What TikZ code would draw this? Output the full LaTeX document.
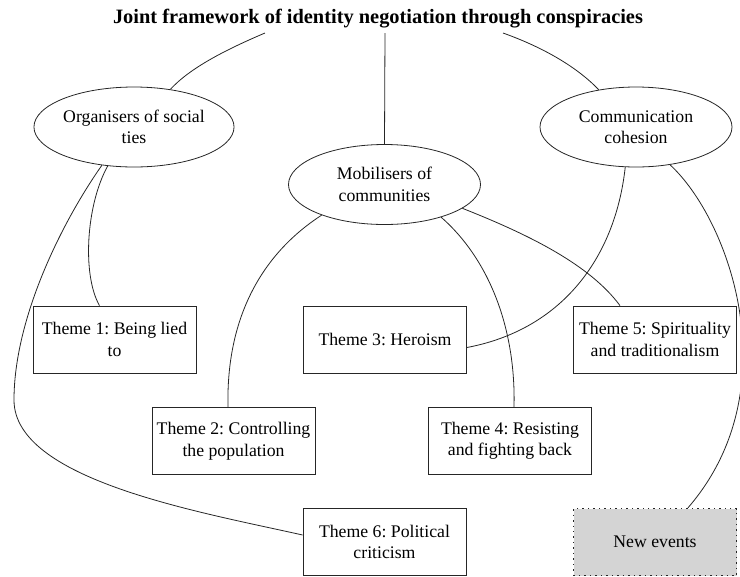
\documentclass[tikz,border=0pt]{standalone}
\usepackage{fontspec}
\setmainfont{Liberation Serif}
\usetikzlibrary{calc,shapes.geometric}
\frenchspacing
\begin{document}
\begin{tikzpicture}[x=0.75pt,y=-0.75pt,
  every node/.style={font=\fontsize{13.3}{16.1}\selectfont, align=center, inner sep=0pt},
  heading/.style={font=\fontsize{15.3}{18}\selectfont\bfseries},
  oval/.style={ellipse, draw=black!85, line width=0.6pt, minimum width=144pt, minimum height=60pt},
  themebox/.style={rectangle, draw=black!85, line width=0.6pt, minimum width=122.25pt, minimum height=50.25pt},
  eventbox/.style={rectangle, draw=black!85, fill=black!17, line width=1.1pt, dash pattern=on 1.1pt off 3pt, minimum width=122.25pt, minimum height=50.25pt},
  link/.style={draw=black!85, line width=0.6pt}]
\useasboundingbox (0,0) rectangle (740,576);
\clip (0,0) rectangle (740,576);
\node[heading] (title) at (378,19) {Joint framework of identity negotiation through conspiracies};
\coordinate (t1) at (265,33);
\coordinate (t2) at (385,33);
\coordinate (t3) at (503,33);
\node[oval] (org) at (134,127) {Organisers of social\\ties};
\node[oval] (mob) at (384.5,184.5) {Mobilisers of\\communities};
\node[oval] (comm) at (636,127) {Communication\\cohesion};
\node[themebox] (b1) at (114.5,339.5) {Theme 1: Being lied\\to};
\node[themebox] (b3) at (385,339.5) {Theme 3: Heroism};
\node[themebox] (b5) at (655,339.5) {Theme 5: Spirituality\\and traditionalism};
\node[themebox] (b2) at (233.5,441) {Theme 2: Controlling\\the population};
\node[themebox] (b4) at (510,441) {Theme 4: Resisting\\and fighting back};
\node[themebox] (b6) at (384.5,542) {Theme 6: Political\\criticism};
\node[eventbox] (ne) at (655,542) {New events};
\draw[link] (t1) .. controls (225,50) and (190,68) .. (org.46);
\draw[link] (t2) -- (mob.north);
\draw[link] (t3) .. controls (545,48) and (578,68) .. (comm.135);
\draw[link] (org.-124) .. controls (86,205) and (82,275) .. ($(b1.north)+(-15,0)$);
\draw[link] (org.-130) .. controls (60,225) and (14,320) .. (14,400) .. controls (14,480) and (200,512) .. ($(b6.west)+(0,-7)$);
\draw[link] (mob.-154) .. controls (260,255) and (226,320) .. ($(b2.north)+(-5.5,0)$);
\draw[link] (mob.-30) .. controls (490,260) and (516,330) .. ($(b4.north)+(4,0)$);
\draw[link] (mob.-17) .. controls (530,235) and (590,265) .. ($(b5.north)+(-35,0)$);
\draw[link] (comm.-105) .. controls (615,260) and (560,330) .. ($(b3.east)+(0,8)$);
\draw[link] (comm.-48) .. controls (730,220) and (790,390) .. ($(ne.north)+(33,0)$);
\end{tikzpicture}
\end{document}
